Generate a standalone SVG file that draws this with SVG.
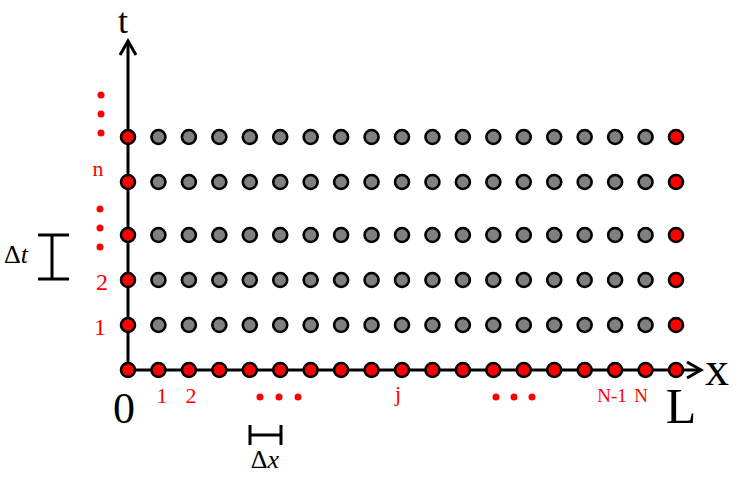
<svg xmlns="http://www.w3.org/2000/svg" width="748" height="488" viewBox="0 0 748 488">
<style>
.ax{stroke:#000;stroke-width:3;fill:none}
.hd{stroke:#000;stroke-width:3;fill:none;stroke-linejoin:miter;stroke-linecap:butt}
circle.r{fill:#ff0000;stroke:#000;stroke-width:2.6}
circle.g{fill:#808080;stroke:#000;stroke-width:2.6}
.dot{fill:#ff0000}
.lbl{font-family:"Liberation Serif","DejaVu Serif",serif;fill:#ff0000;text-anchor:middle}
.big{font-family:"Liberation Serif","DejaVu Serif",serif;fill:#000;text-anchor:middle}
</style>
<rect width="748" height="488" fill="#fff"/>
<g id="connectors">
<line class="ax" x1="128" y1="370" x2="128" y2="41"/>
<path class="hd" d="M120,55 L128,41 L136,55"/>
<line class="ax" x1="128" y1="370" x2="701" y2="370"/>
<path class="hd" d="M687,362 L701,370 L687,378"/>
<path class="ax" d="M38,235 H69 M38,279 H69 M52,235 V279"/>
<path class="ax" d="M250,425 V445 M281,425 V445 M250,435 H281"/>
</g>
<g id="nodes">
<g id="n0-0"><circle class="r" cx="128" cy="370" r="7"/></g>
<g id="n0-1"><circle class="r" cx="158.44" cy="370" r="7"/></g>
<g id="n0-2"><circle class="r" cx="188.89" cy="370" r="7"/></g>
<g id="n0-3"><circle class="r" cx="219.33" cy="370" r="7"/></g>
<g id="n0-4"><circle class="r" cx="249.78" cy="370" r="7"/></g>
<g id="n0-5"><circle class="r" cx="280.22" cy="370" r="7"/></g>
<g id="n0-6"><circle class="r" cx="310.67" cy="370" r="7"/></g>
<g id="n0-7"><circle class="r" cx="341.11" cy="370" r="7"/></g>
<g id="n0-8"><circle class="r" cx="371.56" cy="370" r="7"/></g>
<g id="n0-9"><circle class="r" cx="402" cy="370" r="7"/></g>
<g id="n0-10"><circle class="r" cx="432.44" cy="370" r="7"/></g>
<g id="n0-11"><circle class="r" cx="462.89" cy="370" r="7"/></g>
<g id="n0-12"><circle class="r" cx="493.33" cy="370" r="7"/></g>
<g id="n0-13"><circle class="r" cx="523.78" cy="370" r="7"/></g>
<g id="n0-14"><circle class="r" cx="554.22" cy="370" r="7"/></g>
<g id="n0-15"><circle class="r" cx="584.67" cy="370" r="7"/></g>
<g id="n0-16"><circle class="r" cx="615.11" cy="370" r="7"/></g>
<g id="n0-17"><circle class="r" cx="645.56" cy="370" r="7"/></g>
<g id="n0-18"><circle class="r" cx="676" cy="370" r="7"/></g>

<g id="n1-0"><circle class="r" cx="128" cy="325" r="7"/></g>
<g id="n1-1"><circle class="g" cx="158.44" cy="325" r="7"/></g>
<g id="n1-2"><circle class="g" cx="188.89" cy="325" r="7"/></g>
<g id="n1-3"><circle class="g" cx="219.33" cy="325" r="7"/></g>
<g id="n1-4"><circle class="g" cx="249.78" cy="325" r="7"/></g>
<g id="n1-5"><circle class="g" cx="280.22" cy="325" r="7"/></g>
<g id="n1-6"><circle class="g" cx="310.67" cy="325" r="7"/></g>
<g id="n1-7"><circle class="g" cx="341.11" cy="325" r="7"/></g>
<g id="n1-8"><circle class="g" cx="371.56" cy="325" r="7"/></g>
<g id="n1-9"><circle class="g" cx="402" cy="325" r="7"/></g>
<g id="n1-10"><circle class="g" cx="432.44" cy="325" r="7"/></g>
<g id="n1-11"><circle class="g" cx="462.89" cy="325" r="7"/></g>
<g id="n1-12"><circle class="g" cx="493.33" cy="325" r="7"/></g>
<g id="n1-13"><circle class="g" cx="523.78" cy="325" r="7"/></g>
<g id="n1-14"><circle class="g" cx="554.22" cy="325" r="7"/></g>
<g id="n1-15"><circle class="g" cx="584.67" cy="325" r="7"/></g>
<g id="n1-16"><circle class="g" cx="615.11" cy="325" r="7"/></g>
<g id="n1-17"><circle class="g" cx="645.56" cy="325" r="7"/></g>
<g id="n1-18"><circle class="r" cx="676" cy="325" r="7"/></g>

<g id="n2-0"><circle class="r" cx="128" cy="280" r="7"/></g>
<g id="n2-1"><circle class="g" cx="158.44" cy="280" r="7"/></g>
<g id="n2-2"><circle class="g" cx="188.89" cy="280" r="7"/></g>
<g id="n2-3"><circle class="g" cx="219.33" cy="280" r="7"/></g>
<g id="n2-4"><circle class="g" cx="249.78" cy="280" r="7"/></g>
<g id="n2-5"><circle class="g" cx="280.22" cy="280" r="7"/></g>
<g id="n2-6"><circle class="g" cx="310.67" cy="280" r="7"/></g>
<g id="n2-7"><circle class="g" cx="341.11" cy="280" r="7"/></g>
<g id="n2-8"><circle class="g" cx="371.56" cy="280" r="7"/></g>
<g id="n2-9"><circle class="g" cx="402" cy="280" r="7"/></g>
<g id="n2-10"><circle class="g" cx="432.44" cy="280" r="7"/></g>
<g id="n2-11"><circle class="g" cx="462.89" cy="280" r="7"/></g>
<g id="n2-12"><circle class="g" cx="493.33" cy="280" r="7"/></g>
<g id="n2-13"><circle class="g" cx="523.78" cy="280" r="7"/></g>
<g id="n2-14"><circle class="g" cx="554.22" cy="280" r="7"/></g>
<g id="n2-15"><circle class="g" cx="584.67" cy="280" r="7"/></g>
<g id="n2-16"><circle class="g" cx="615.11" cy="280" r="7"/></g>
<g id="n2-17"><circle class="g" cx="645.56" cy="280" r="7"/></g>
<g id="n2-18"><circle class="r" cx="676" cy="280" r="7"/></g>

<g id="n3-0"><circle class="r" cx="128" cy="235" r="7"/></g>
<g id="n3-1"><circle class="g" cx="158.44" cy="235" r="7"/></g>
<g id="n3-2"><circle class="g" cx="188.89" cy="235" r="7"/></g>
<g id="n3-3"><circle class="g" cx="219.33" cy="235" r="7"/></g>
<g id="n3-4"><circle class="g" cx="249.78" cy="235" r="7"/></g>
<g id="n3-5"><circle class="g" cx="280.22" cy="235" r="7"/></g>
<g id="n3-6"><circle class="g" cx="310.67" cy="235" r="7"/></g>
<g id="n3-7"><circle class="g" cx="341.11" cy="235" r="7"/></g>
<g id="n3-8"><circle class="g" cx="371.56" cy="235" r="7"/></g>
<g id="n3-9"><circle class="g" cx="402" cy="235" r="7"/></g>
<g id="n3-10"><circle class="g" cx="432.44" cy="235" r="7"/></g>
<g id="n3-11"><circle class="g" cx="462.89" cy="235" r="7"/></g>
<g id="n3-12"><circle class="g" cx="493.33" cy="235" r="7"/></g>
<g id="n3-13"><circle class="g" cx="523.78" cy="235" r="7"/></g>
<g id="n3-14"><circle class="g" cx="554.22" cy="235" r="7"/></g>
<g id="n3-15"><circle class="g" cx="584.67" cy="235" r="7"/></g>
<g id="n3-16"><circle class="g" cx="615.11" cy="235" r="7"/></g>
<g id="n3-17"><circle class="g" cx="645.56" cy="235" r="7"/></g>
<g id="n3-18"><circle class="r" cx="676" cy="235" r="7"/></g>

<g id="n4-0"><circle class="r" cx="128" cy="182" r="7"/></g>
<g id="n4-1"><circle class="g" cx="158.44" cy="182" r="7"/></g>
<g id="n4-2"><circle class="g" cx="188.89" cy="182" r="7"/></g>
<g id="n4-3"><circle class="g" cx="219.33" cy="182" r="7"/></g>
<g id="n4-4"><circle class="g" cx="249.78" cy="182" r="7"/></g>
<g id="n4-5"><circle class="g" cx="280.22" cy="182" r="7"/></g>
<g id="n4-6"><circle class="g" cx="310.67" cy="182" r="7"/></g>
<g id="n4-7"><circle class="g" cx="341.11" cy="182" r="7"/></g>
<g id="n4-8"><circle class="g" cx="371.56" cy="182" r="7"/></g>
<g id="n4-9"><circle class="g" cx="402" cy="182" r="7"/></g>
<g id="n4-10"><circle class="g" cx="432.44" cy="182" r="7"/></g>
<g id="n4-11"><circle class="g" cx="462.89" cy="182" r="7"/></g>
<g id="n4-12"><circle class="g" cx="493.33" cy="182" r="7"/></g>
<g id="n4-13"><circle class="g" cx="523.78" cy="182" r="7"/></g>
<g id="n4-14"><circle class="g" cx="554.22" cy="182" r="7"/></g>
<g id="n4-15"><circle class="g" cx="584.67" cy="182" r="7"/></g>
<g id="n4-16"><circle class="g" cx="615.11" cy="182" r="7"/></g>
<g id="n4-17"><circle class="g" cx="645.56" cy="182" r="7"/></g>
<g id="n4-18"><circle class="r" cx="676" cy="182" r="7"/></g>

<g id="n5-0"><circle class="r" cx="128" cy="137" r="7"/></g>
<g id="n5-1"><circle class="g" cx="158.44" cy="137" r="7"/></g>
<g id="n5-2"><circle class="g" cx="188.89" cy="137" r="7"/></g>
<g id="n5-3"><circle class="g" cx="219.33" cy="137" r="7"/></g>
<g id="n5-4"><circle class="g" cx="249.78" cy="137" r="7"/></g>
<g id="n5-5"><circle class="g" cx="280.22" cy="137" r="7"/></g>
<g id="n5-6"><circle class="g" cx="310.67" cy="137" r="7"/></g>
<g id="n5-7"><circle class="g" cx="341.11" cy="137" r="7"/></g>
<g id="n5-8"><circle class="g" cx="371.56" cy="137" r="7"/></g>
<g id="n5-9"><circle class="g" cx="402" cy="137" r="7"/></g>
<g id="n5-10"><circle class="g" cx="432.44" cy="137" r="7"/></g>
<g id="n5-11"><circle class="g" cx="462.89" cy="137" r="7"/></g>
<g id="n5-12"><circle class="g" cx="493.33" cy="137" r="7"/></g>
<g id="n5-13"><circle class="g" cx="523.78" cy="137" r="7"/></g>
<g id="n5-14"><circle class="g" cx="554.22" cy="137" r="7"/></g>
<g id="n5-15"><circle class="g" cx="584.67" cy="137" r="7"/></g>
<g id="n5-16"><circle class="g" cx="615.11" cy="137" r="7"/></g>
<g id="n5-17"><circle class="g" cx="645.56" cy="137" r="7"/></g>
<g id="n5-18"><circle class="r" cx="676" cy="137" r="7"/></g>
</g>
<g id="ellipses">
<circle class="dot" cx="101" cy="95" r="3.5"/>
<circle class="dot" cx="101" cy="114" r="3.5"/>
<circle class="dot" cx="101" cy="133" r="3.5"/>
<circle class="dot" cx="100" cy="209" r="3.5"/>
<circle class="dot" cx="100" cy="228" r="3.5"/>
<circle class="dot" cx="100" cy="247" r="3.5"/>
<circle class="dot" cx="260" cy="397" r="3.5"/>
<circle class="dot" cx="279" cy="397" r="3.5"/>
<circle class="dot" cx="298" cy="397" r="3.5"/>
<circle class="dot" cx="496" cy="397" r="3.5"/>
<circle class="dot" cx="514" cy="397" r="3.5"/>
<circle class="dot" cx="532" cy="397" r="3.5"/>
</g>
<g id="labels">
<text class="big" x="123" y="33" font-size="36">t</text>
<text class="big" x="717" y="385" font-size="48">x</text>
<text class="big" x="124" y="423" font-size="44">0</text>
<text class="big" x="681" y="423" font-size="50">L</text>
<text class="big" x="16" y="263" font-size="26">Δ<tspan font-style="italic">t</tspan></text>
<text class="big" x="265" y="468" font-size="26">Δ<tspan font-style="italic">x</tspan></text>
<text class="lbl" x="98" y="176" font-size="22">n</text>
<text class="lbl" x="102" y="290" font-size="24">2</text>
<text class="lbl" x="100" y="335" font-size="24">1</text>
<text class="lbl" x="162" y="403" font-size="22">1</text>
<text class="lbl" x="191" y="403" font-size="22">2</text>
<text class="lbl" x="398" y="401" font-size="22">j</text>
<text class="lbl" x="612" y="402" font-size="19">N-1</text>
<text class="lbl" x="641" y="402" font-size="19">N</text>
</g>
</svg>
